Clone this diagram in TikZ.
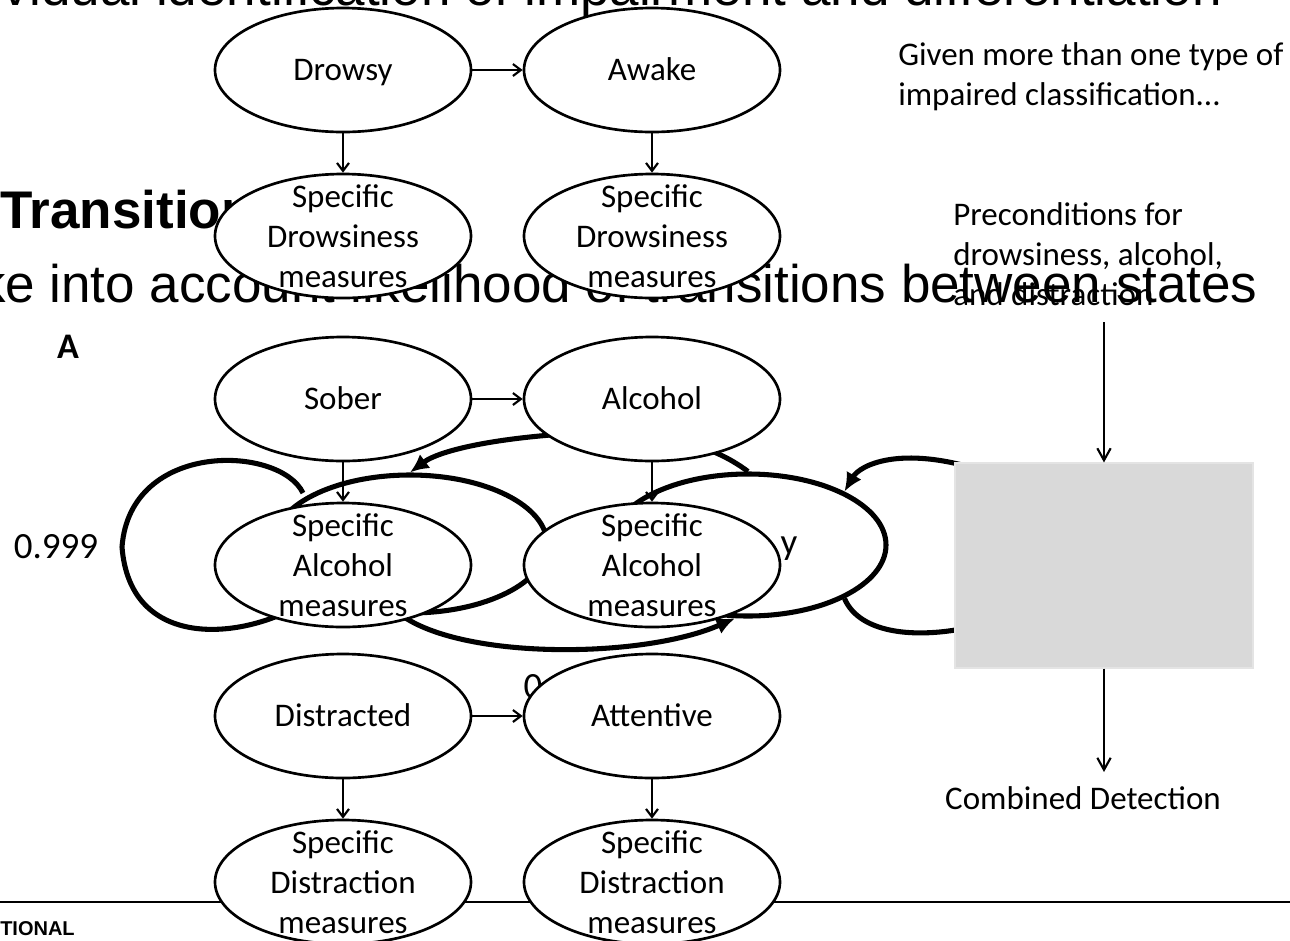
\documentclass[tikz,border=0pt]{standalone}
\usepackage{fontspec}
\setmainfont{Carlito}
\newfontfamily\arialf{Liberation Sans}
\usetikzlibrary{shapes.geometric,arrows.meta}
\definecolor{boxgray}{RGB}{217,217,217}
\begin{document}
\begin{tikzpicture}[x=0.75pt,y=-0.75pt,
  ell/.style={ellipse,draw,line width=2pt,fill=white,minimum width=192pt,minimum height=93pt,inner sep=0pt},
  lbl/.style={font=\fontsize{24.75}{30}\selectfont,align=center,inner sep=0pt},
  one/.style={lbl,anchor=base},
  slide/.style={font=\arialf\fontsize{39.75}{46}\selectfont,inner sep=0pt},
  slidebold/.style={font=\arialf\bfseries\fontsize{39.75}{46}\selectfont,inner sep=0pt},
  bigell/.style={ellipse,draw,line width=3.8pt,inner sep=0pt},
  heavy/.style={line width=3.8pt},
  tarrow/.style={line width=3.8pt,-{Latex[length=14pt,width=13pt]}},
  farrow/.style={line width=1.6pt,-{Straight Barb[length=6pt,width=9pt]}},
  rarrow/.style={line width=1.6pt,-{Straight Barb[length=9pt,width=10pt]}},
  numtxt/.style={font=\fontsize{27.75}{33}\selectfont,inner sep=0pt}
]
\useasboundingbox (0,0) rectangle (1290,940);
\clip (0,0) rectangle (1290,940);

% ---- background slide ----
\node[slide,anchor=base east] (title) at (1222,5) {vidual identification of impairment and differentiation};
\node[slidebold,anchor=base west] (trans) at (0,228) {Transition};
\node[slide,anchor=base east] (take) at (1258,302) {ke into account likelihood of transitions between states};
\coordinate (bl) at (0,902);
\coordinate (br) at (1290,902);
\draw[line width=1.4pt] (bl) -- (br);
\node[anchor=base west,font=\arialf\bfseries\fontsize{15}{18}\selectfont,inner sep=0pt] (tional) at (0,935) {TIONAL};

\node[font=\bfseries\fontsize{27}{32}\selectfont,inner sep=0pt,anchor=base] (lettera) at (68,358) {A};
\node[numtxt] (p999) at (56,547) {0.999};

\node[bigell,minimum width=205.5pt,minimum height=103.5pt] (bgL) at (410,544) {};
\node[bigell,minimum width=207pt,minimum height=106.5pt] (bgR) at (748,545) {};
\node[numtxt] (ytxt) at (789,549) {y};
\node[numtxt] (zero) at (533,687) {0};

\draw[heavy] (303,493) .. controls (280,445) and (130,440) .. (122,547)
             .. controls (130,650) and (240,640) .. (300,605);
\draw[tarrow] (600,432) .. controls (500,436) and (440,450) .. (bgL.north);
\draw[heavy] (670,440) .. controls (705,445) and (730,458) .. (bgR.north);
\draw[tarrow] (395,610) .. controls (450,660) and (640,660) .. (bgR.260);
\draw[tarrow] (980,470) .. controls (900,445) and (860,465) .. (bgR.29);
\draw[heavy] (bgR.-29) .. controls (860,635) and (920,640) .. (980,625);

\node[fill=boxgray,draw=boxgray!70!white,line width=0.8pt,minimum width=223.5pt,minimum height=153.75pt,inner sep=0pt] (box) at (1104,565.5) {};

% ---- foreground diagram ----
\node[ell] (drowsy) at (343,70) {};
\node[ell] (awake) at (652,70) {};
\node[ell] (sd1) at (343,236) {};
\node[ell] (sd2) at (652,236) {};
\node[ell] (sober) at (343,399) {};
\node[ell] (alcohol) at (652,399) {};
\node[ell] (sa1) at (343,565) {};
\node[ell] (sa2) at (652,565) {};
\node[ell] (distracted) at (343,716) {};
\node[ell] (attentive) at (652,716) {};
\node[ell] (sx1) at (343,882) {};
\node[ell] (sx2) at (652,882) {};

\node[one] (drowsyt) at ([yshift=-7.9pt]drowsy.center) {Drowsy};
\node[one] (awaket) at ([yshift=-7.9pt]awake.center) {Awake};
\node[lbl] (sd1t) at (sd1) {Specific\\Drowsiness\\measures};
\node[lbl] (sd2t) at (sd2) {Specific\\Drowsiness\\measures};
\node[one] (sobert) at ([yshift=-7.9pt]sober.center) {Sober};
\node[one] (alcoholt) at ([yshift=-7.9pt]alcohol.center) {Alcohol};
\node[lbl] (sa1t) at (sa1) {Specific\\Alcohol\\measures};
\node[lbl] (sa2t) at (sa2) {Specific\\Alcohol\\measures};
\node[one] (distractedt) at ([yshift=-7.9pt]distracted.center) {Distracted};
\node[one] (attentivet) at ([yshift=-7.9pt]attentive.center) {Attentive};
\node[lbl] (sx1t) at (sx1) {Specific\\Distraction\\measures};
\node[lbl] (sx2t) at (sx2) {Specific\\Distraction\\measures};

\draw[farrow] (drowsy) -- (awake);
\draw[farrow] (sober) -- (alcohol);
\draw[farrow] (distracted) -- (attentive);
\draw[farrow] (drowsy) -- (sd1);
\draw[farrow] (awake) -- (sd2);
\draw[farrow] (sober) -- (sa1);
\draw[farrow] (alcohol) -- (sa2);
\draw[farrow] (distracted) -- (sx1);
\draw[farrow] (attentive) -- (sx2);

% ---- right column ----
\node[lbl,align=left,anchor=west] (given) at (898,77) {Given more than one type of\\impaired classification...};
\node[lbl,align=left,anchor=west] (pre) at (953,254) {Preconditions for\\drowsiness, alcohol,\\and distraction};
\node[lbl] (comb) at (1083,798) {Combined Detection};
\coordinate (preout) at (1104,322);
\coordinate (combin) at (1104,772);
\draw[rarrow] (preout) -- (box.north);
\draw[rarrow] (box.south) -- (combin);
\end{tikzpicture}
\end{document}
